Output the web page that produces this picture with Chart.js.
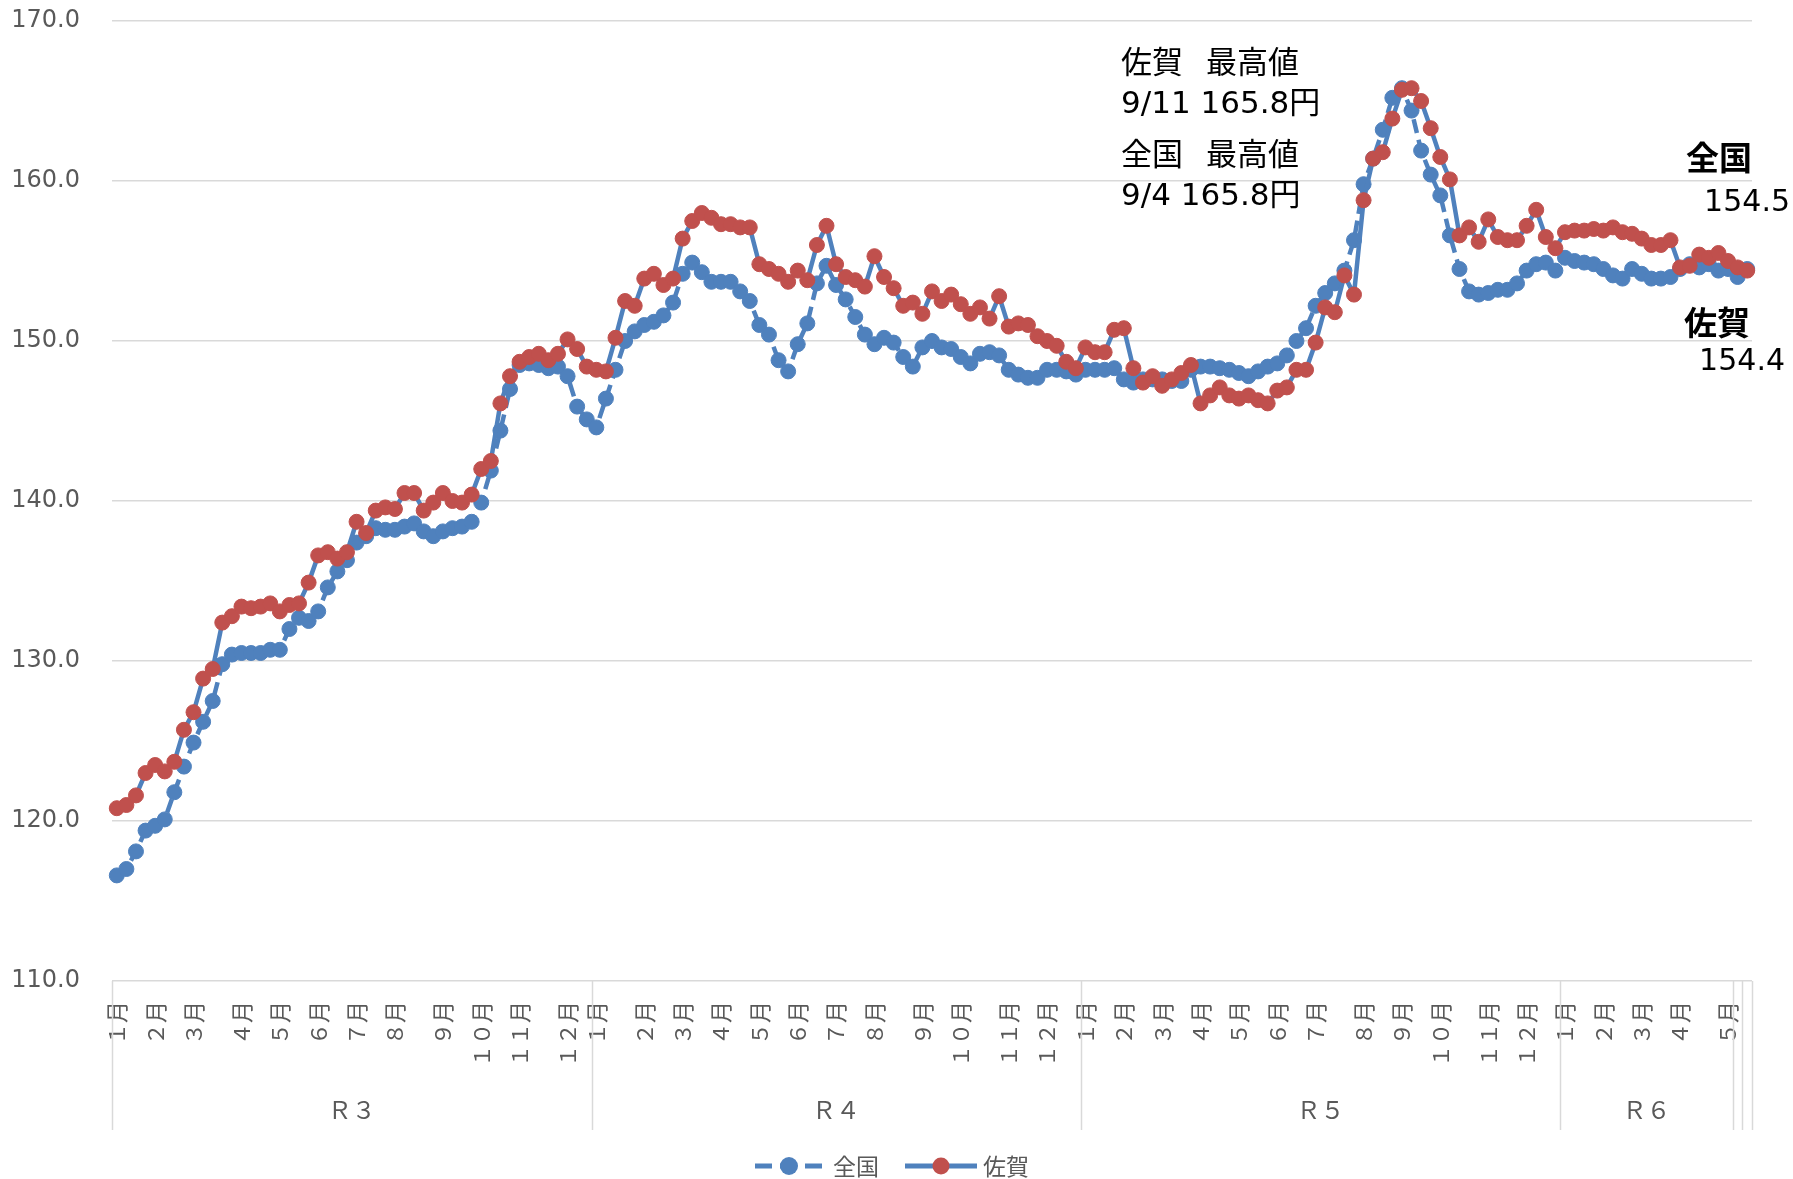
<!DOCTYPE html>
<html>
<head>
<meta charset="utf-8">
<script src="https://cdn.jsdelivr.net/npm/chart.js@4"></script>
<style>
  html, body { margin: 0; padding: 0; background: #fff; }
  canvas { display: block; }
</style>
</head>
<body>
<canvas id="myChart" width="1793" height="1179"></canvas>
<script>

// weekly prices (yen/L), R3 Jan .. R6 May
let national = [
  116.6, 117.0, 118.1, 119.4, 119.7, 120.1, 121.8, 123.4, 124.9, 126.2,
  127.5, 129.8, 130.4, 130.5, 130.5, 130.5, 130.7, 130.7, 132.0, 132.7,
  132.5, 133.1, 134.6, 135.6, 136.3, 137.4, 137.8, 138.3, 138.2, 138.2,
  138.4, 138.6, 138.1, 137.8, 138.1, 138.3, 138.4, 138.7, 139.9, 141.9,
  144.4, 147.0, 148.5, 148.6, 148.5, 148.3, 148.4, 147.8, 145.9, 145.1,
  144.6, 146.4, 148.2, 150.0, 150.6, 151.0, 151.2, 151.6, 152.4, 154.2,
  154.9, 154.3, 153.7, 153.7, 153.7, 153.1, 152.5, 151.0, 150.4, 148.8,
  148.1, 149.8, 151.1, 153.6, 154.7, 153.5, 152.6, 151.5, 150.4, 149.8,
  150.2, 149.9, 149.0, 148.4, 149.6, 150.0, 149.6, 149.5, 149.0, 148.6,
  149.2, 149.3, 149.1, 148.2, 147.9, 147.7, 147.7, 148.2, 148.2, 148.1,
  147.9, 148.2, 148.2, 148.2, 148.3, 147.6, 147.4, 147.6, 147.6, 147.6,
  147.5, 147.5, 148.2, 148.4, 148.4, 148.3, 148.2, 148.0, 147.8, 148.1,
  148.4, 148.6, 149.1, 150.0, 150.8, 152.2, 153.0, 153.6, 154.4, 156.3,
  159.8, 161.4, 163.2, 165.2, 165.8, 164.4, 161.9, 160.4, 159.1, 156.6,
  154.5, 153.1, 152.9, 153.0, 153.2, 153.2, 153.6, 154.4, 154.8, 154.9,
  154.4, 155.2, 155.0, 154.9, 154.8, 154.5, 154.1, 153.9, 154.5, 154.2,
  153.9, 153.9, 154.0, 154.5, 154.8, 154.6, 154.8, 154.4, 154.5, 154.0,
  154.5
];

let saga = [
  120.8, 121.0, 121.6, 123.0, 123.5, 123.1, 123.7, 125.7, 126.8, 128.9,
  129.5, 132.4, 132.8, 133.4, 133.3, 133.4, 133.6, 133.1, 133.5, 133.6,
  134.9, 136.6, 136.8, 136.4, 136.8, 138.7, 138.0, 139.4, 139.6, 139.5,
  140.5, 140.5, 139.4, 139.9, 140.5, 140.0, 139.9, 140.4, 142.0, 142.5,
  146.1, 147.8, 148.7, 149.0, 149.2, 148.8, 149.2, 150.1, 149.5, 148.4,
  148.2, 148.1, 150.2, 152.5, 152.2, 153.9, 154.2, 153.5, 153.9, 156.4,
  157.5, 158.0, 157.7, 157.3, 157.3, 157.1, 157.1, 154.8, 154.5, 154.2,
  153.7, 154.4, 153.8, 156.0, 157.2, 154.8, 154.0, 153.8, 153.4, 155.3,
  154.0, 153.3, 152.2, 152.4, 151.7, 153.1, 152.5, 152.9, 152.3, 151.7,
  152.1, 151.4, 152.8, 150.9, 151.1, 151.0, 150.3, 150.0, 149.7, 148.7,
  148.3, 149.6, 149.3, 149.3, 150.7, 150.8, 148.3, 147.4, 147.8, 147.2,
  147.6, 148.0, 148.5, 146.1, 146.6, 147.1, 146.6, 146.4, 146.6, 146.3,
  146.1, 146.9, 147.1, 148.2, 148.2, 149.9, 152.1, 151.8, 154.1, 152.9,
  158.8, 161.4, 161.8, 163.9, 165.7, 165.8, 165.0, 163.3, 161.5, 160.1,
  156.6, 157.1, 156.2, 157.6, 156.5, 156.3, 156.3, 157.2, 158.2, 156.5,
  155.8, 156.8, 156.9, 156.9, 157.0, 156.9, 157.1, 156.8, 156.7, 156.4,
  156.0, 156.0, 156.3, 154.6, 154.7, 155.4, 155.2, 155.5, 155.0, 154.6,
  154.4
];

// month tick labels: week index where each month starts
let monthPos = [0, 4, 8, 13, 17, 21, 25, 29, 34, 38, 42, 47,
                50, 55, 59, 63, 67, 71, 75, 79, 84, 88, 93, 97,
                101, 105, 109, 113, 117, 121, 125, 130, 134, 138, 143, 147,
                151, 155, 159, 163, 168];
let monthNames = ['１月', '２月', '３月', '４月', '５月', '６月', '７月', '８月', '９月', '１０月', '１１月', '１２月',
                  '１月', '２月', '３月', '４月', '５月', '６月', '７月', '８月', '９月', '１０月', '１１月', '１２月',
                  '１月', '２月', '３月', '４月', '５月', '６月', '７月', '８月', '９月', '１０月', '１１月', '１２月',
                  '１月', '２月', '３月', '４月', '５月'];

// year groups
let yearNames = ['Ｒ３', 'Ｒ４', 'Ｒ５', 'Ｒ６'];
let groupEdges = [0, 50, 101, 151, 169, 170, 171];

let yTicks = [110, 120, 130, 140, 150, 160, 170];

let labels = national.map(() => '');
monthPos.forEach((p, k) => { labels[p] = monthNames[k]; });

const BLUE = '#4f81bd';
const RED = '#c0504d';
const GREY = '#595959';
const JP = "'Noto Sans CJK JP', sans-serif";
const NUM = "'DejaVu Sans', 'Noto Sans CJK JP', sans-serif";

// group labels, legend and notes
const extras = {
  id: 'extras',
  afterDraw(chart) {
    const { ctx, chartArea } = chart;
    const x = chart.scales.x;
    const slot = x.getPixelForValue(1) - x.getPixelForValue(0);
    const edge = i => x.getPixelForValue(i) - slot / 2;
    ctx.save();

    // category group separators
    ctx.strokeStyle = '#d9d9d9';
    ctx.lineWidth = 1.5;
    groupEdges.forEach(i => {
      const px = Math.round(edge(i)) + 0.5;
      ctx.beginPath();
      ctx.moveTo(px, chartArea.bottom);
      ctx.lineTo(px, 1130);
      ctx.stroke();
    });

    ctx.fillStyle = GREY;
    ctx.font = '24px ' + JP;
    ctx.textAlign = 'center';
    ctx.textBaseline = 'middle';
    yearNames.forEach((name, k) => {
      const mid = (edge(groupEdges[k]) + edge(groupEdges[k + 1])) / 2;
      ctx.fillText(name, mid, 1110);
    });

    // legend
    const ly = 1166;
    ctx.strokeStyle = BLUE;
    ctx.lineWidth = 5;
    ctx.setLineDash([17, 8]);
    ctx.beginPath(); ctx.moveTo(755, ly); ctx.lineTo(822, ly); ctx.stroke();
    ctx.setLineDash([]);
    ctx.fillStyle = BLUE;
    ctx.beginPath(); ctx.arc(789, ly, 9, 0, Math.PI * 2); ctx.fill();
    ctx.beginPath(); ctx.moveTo(905, ly); ctx.lineTo(977, ly); ctx.stroke();
    ctx.fillStyle = RED;
    ctx.beginPath(); ctx.arc(941, ly, 8.5, 0, Math.PI * 2); ctx.fill();
    ctx.fillStyle = GREY;
    ctx.font = '23px ' + JP;
    ctx.textAlign = 'left';
    ctx.fillText('全国', 833, ly);
    ctx.fillText('佐賀', 983, ly);

    // peak notes
    ctx.fillStyle = '#000';
    ctx.font = '31px ' + NUM;
    ctx.fillText('佐賀', 1121, 65);
    ctx.fillText('最高値', 1206, 65);
    ctx.fillText('9/11 165.8円', 1121, 105);
    ctx.fillText('全国', 1121, 157);
    ctx.fillText('最高値', 1206, 157);
    ctx.fillText('9/4 165.8円', 1121, 197);

    // latest values
    ctx.font = 'bold 33px ' + JP;
    ctx.textAlign = 'right';
    ctx.fillText('全国', 1752, 157);
    ctx.fillText('佐賀', 1750, 322);
    ctx.font = '30px ' + NUM;
    ctx.fillText('154.5', 1790, 203);
    ctx.fillText('154.4', 1785, 362);

    ctx.restore();
  }
};

let myChart = document.getElementById('myChart').getContext('2d');

let chart = new Chart(myChart, {
  type: 'line',
  data: {
    labels: labels,
    datasets: [{
      label: '全国',
      data: national,
      borderColor: BLUE,
      backgroundColor: BLUE,
      borderWidth: 4.5,
      borderDash: [14, 7],
      pointRadius: 7.5,
      pointBackgroundColor: BLUE,
      pointBorderColor: BLUE,
      pointBorderWidth: 1,
      tension: 0,
      order: 2
    }, {
      label: '佐賀',
      data: saga,
      borderColor: BLUE,
      backgroundColor: RED,
      borderWidth: 4.5,
      pointRadius: 7.5,
      pointBackgroundColor: RED,
      pointBorderColor: RED,
      pointBorderWidth: 1,
      tension: 0,
      order: 1
    }]
  },
  options: {
    responsive: false,
    animation: false,
    devicePixelRatio: 1,
    layout: { padding: { top: 21, right: 41, bottom: 0, left: 0 } },
    plugins: {
      legend: { display: false },
      tooltip: { enabled: false }
    },
    scales: {
      x: {
        offset: true,
        grid: { display: false, drawTicks: false },
        border: { display: false },
        ticks: {
          autoSkip: false,
          maxRotation: 90,
          minRotation: 90,
          padding: 20,
          color: GREY,
          font: { family: JP, size: 22 }
        },
        afterFit(scale) {
          scale.height = 198;
          scale.paddingLeft = 0;
          scale.paddingRight = 0;
          scale.paddingTop = 0;
          scale.paddingBottom = 0;
        }
      },
      y: {
        min: 110,
        max: 170,
        afterBuildTicks(scale) { scale.ticks = yTicks.map(v => ({ value: v })); },
        grid: { color: '#d9d9d9', lineWidth: 1.5, drawTicks: false },
        border: { display: false },
        ticks: {
          padding: 32,
          color: GREY,
          font: { family: NUM, size: 24 },
          callback: v => v.toFixed(1)
        },
        afterFit(scale) {
          scale.width = 112;
          scale.paddingTop = 0;
          scale.paddingBottom = 0;
        }
      }
    }
  },
  plugins: [extras]
});
</script>
</body>
</html>
